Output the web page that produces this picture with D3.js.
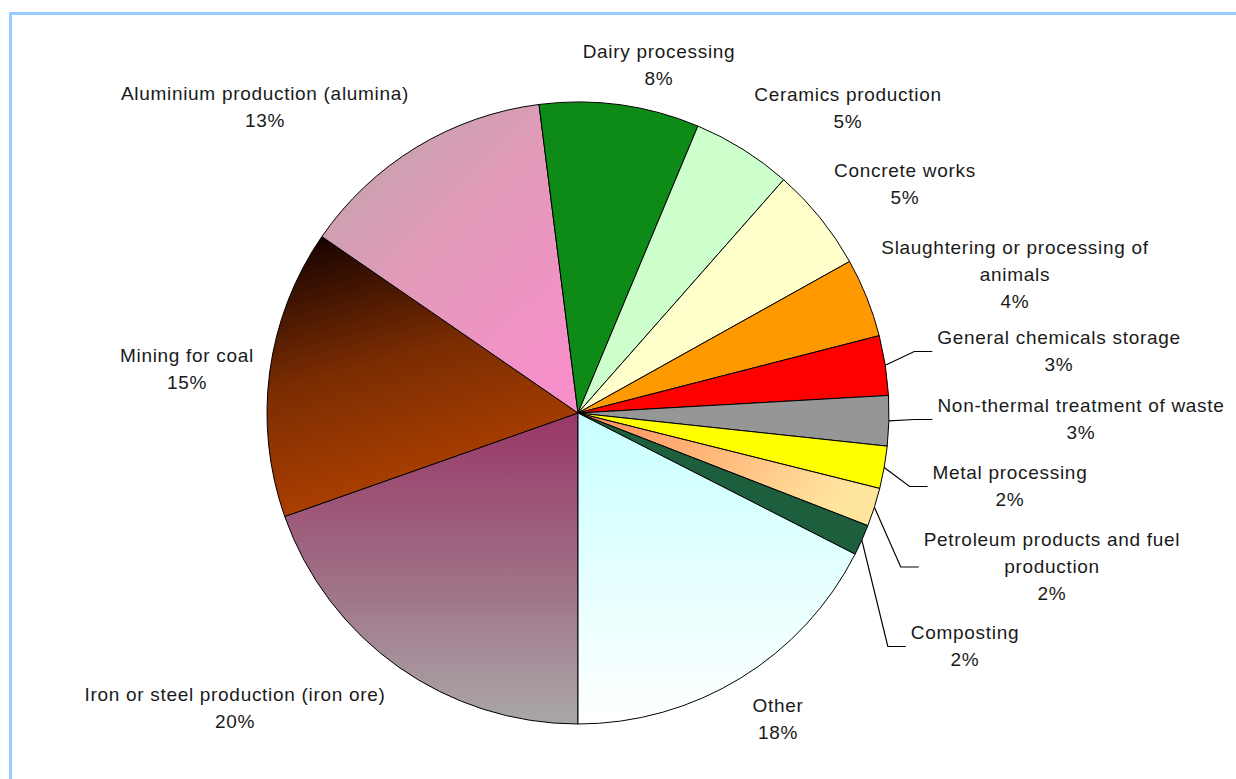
<!DOCTYPE html>
<html><head><meta charset="utf-8">
<script src="https://cdn.jsdelivr.net/npm/d3@7"></script>
<style>html,body{margin:0;padding:0;background:#fff;overflow:hidden;} svg{display:block;}</style>
</head><body>
<svg id="chart" width="1236" height="779"></svg>
<script>
// ---- data ----
const categories = [
  "Iron or steel production (iron ore)", "Mining for coal", "Aluminium production (alumina)",
  "Dairy processing", "Ceramics production", "Concrete works",
  "Slaughtering or processing of animals", "General chemicals storage",
  "Non-thermal treatment of waste", "Metal processing",
  "Petroleum products and fuel production", "Composting", "Other"
];
const values = [19.6, 15.0, 13.4, 8.3, 5.2, 5.4, 4.1, 3.1, 2.6, 2.2, 2.0, 1.6, 17.5];
const percentLabels = ["20%", "15%", "13%", "8%", "5%", "5%", "4%", "3%", "3%", "2%", "2%", "2%", "18%"];
const labelLines = [
  ["Iron or steel production (iron ore)"], ["Mining for coal"], ["Aluminium production (alumina)"],
  ["Dairy processing"], ["Ceramics production"], ["Concrete works"],
  ["Slaughtering or processing of", "animals"], ["General chemicals storage"],
  ["Non-thermal treatment of waste"], ["Metal processing"],
  ["Petroleum products and fuel", "production"], ["Composting"], ["Other"]
];

// ---- styling / layout (not data) ----
const fills = ["url(#gIron)", "url(#gMining)", "url(#gAlu)", "#0e8a16", "#ccffcc", "#ffffcc",
  "#ff9900", "#ff0000", "#969696", "#ffff00", "url(#gPetro)", "#1d5e3c", "url(#gOther)"];
// label block: [center x, first line center y]
const labelPos = [[235, 694], [187, 355], [265, 93], [659, 51], [848, 94], [905, 170],
  [1015, 247], [1059, 337], [1081, 405], [1010, 472], [1052, 539], [965, 632], [778, 705]];
const withLeader = [false, false, false, false, false, false, false, true, true, true, true, true, false];

const W = 1236, H = 779;
const cx = 578, cy = 413, R = 311;
const lineH = 27;

const svg = d3.select("#chart");
const defs = svg.append("defs");
function lin(id, x1, y1, x2, y2, stops) {
  const g = defs.append("linearGradient").attr("id", id)
    .attr("x1", x1).attr("y1", y1).attr("x2", x2).attr("y2", y2);
  stops.forEach(s => g.append("stop").attr("offset", s[0]).attr("stop-color", s[1]));
}
lin("gIron", 0, 0, 0, 1, [[0, "#993768"], [0.45, "#9e6680"], [1, "#a9a7a8"]]);
lin("gMining", 0.2, 0, 0.5, 1, [[0, "#1a0400"], [0.45, "#7a2c02"], [1, "#b84400"]]);
lin("gAlu", 0, 0, 0.8, 1, [[0, "#b9a6ab"], [0.5, "#e29ab8"], [1, "#f78fcb"]]);
lin("gPetro", 0, 0, 1, 0.3, [[0, "#ff8c5e"], [0.5, "#ffb77a"], [1, "#ffe49e"]]);
lin("gOther", 0, 0, 0, 1, [[0, "#c8ffff"], [1, "#ffffff"]]);

// frame
svg.append("rect").attr("x", 10.5).attr("y", 13.5).attr("width", W + 50).attr("height", H + 50)
  .attr("fill", "#ffffff").attr("stroke", "#99ccff").attr("stroke-width", 3);

const pie = d3.pie().sort(null).value(d => d).startAngle(Math.PI).endAngle(3 * Math.PI);
const arcs = pie(values);
const arc = d3.arc().innerRadius(0).outerRadius(R);

const g = svg.append("g").attr("transform", `translate(${cx},${cy})`);
g.selectAll("path.slice").data(arcs).enter().append("path")
  .attr("class", "slice")
  .attr("d", arc)
  .attr("fill", (d, i) => fills[i])
  .attr("stroke", "#000").attr("stroke-width", 1).attr("stroke-linejoin", "round");

// labels
const lab = svg.append("g")
  .attr("font-family", "'Liberation Sans', Arial, sans-serif")
  .attr("font-size", 19).attr("letter-spacing", "0.7px").attr("fill", "#1a1a1a")
  .attr("text-anchor", "middle");

categories.forEach((c, i) => {
  const lines = labelLines[i].concat([percentLabels[i]]);
  const [lx, ly] = labelPos[i];
  const t = lab.append("text").attr("x", lx).attr("y", ly).attr("dominant-baseline", "central");
  lines.forEach((ln, k) => {
    t.append("tspan").attr("x", lx).attr("y", ly + k * lineH).text(ln);
  });
  if (withLeader[i]) {
    const a = arcs[i];
    const mid = (a.startAngle + a.endAngle) / 2;
    const sx = cx + R * Math.sin(mid), sy = cy - R * Math.cos(mid);
    let maxW = 0;
    t.selectAll("tspan").each(function () { maxW = Math.max(maxW, this.getComputedTextLength()); });
    const ex = lx - maxW / 2 - 5;
    const ey = ly + (lines.length - 1) * lineH / 2 + 1;
    const bx = Math.max(ex - 18, sx);
    svg.append("polyline")
      .attr("points", [[sx, sy], [bx, ey], [ex, ey]].map(p => p.join(",")).join(" "))
      .attr("fill", "none").attr("stroke", "#000").attr("stroke-width", 1.2);
  }
});
</script>
</body></html>
